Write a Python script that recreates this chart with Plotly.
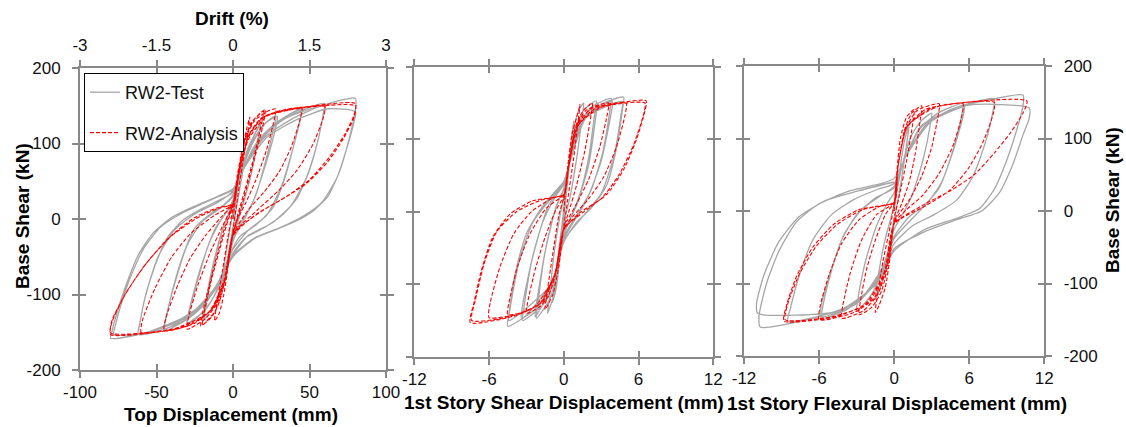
import plotly.graph_objects as go

# ---------------- data ----------------
# Panel 1: top displacement (mm) vs base shear (kN)
top_test = [
    (0, 0), (3, 40), (6, 68), (8, 80), (7, 70), (4, 35), (1, 0), (0, -10), (-3, -48), (-6, -75), (-8, -88),
    (-7, -76), (-4, -38), (-1, -2), (0, 8),
    (3, 45), (6, 72), (8, 82), (7, 70), (3, 25), (0, -12), (-3, -50), (-8, -90), (-7, -78), (-3, -25), (0, 10),
    (4, 55), (10, 95), (15, 115), (18, 125), (17, 112), (13, 70), (8, 30), (3, 0), (0, -22), (-5, -70),
    (-11, -108), (-16, -125), (-19, -133), (-18, -120), (-14, -75), (-9, -30), (-4, 2), (0, 18),
    (5, 60), (11, 98), (18, 128), (17, 114), (12, 60), (6, 15), (0, -25), (-6, -78), (-12, -112), (-20, -136),
    (-19, -122), (-13, -60), (-6, -8), (0, 20),
    (5, 60), (12, 100), (20, 125), (28, 137), (27, 124), (22, 82), (15, 32), (8, 2), (0, -28), (-6, -72),
    (-14, -108), (-22, -128), (-30, -140), (-29, -127), (-24, -88), (-16, -34), (-8, -2), (0, 22),
    (6, 65), (14, 105), (22, 128), (29, 136), (28, 122), (21, 70), (12, 18), (4, -8), (0, -30), (-8, -85),
    (-18, -120), (-30, -138), (-29, -124), (-22, -70), (-12, -14), (-4, 10), (0, 25),
    (6, 62), (15, 100), (28, 127), (38, 140), (45, 147), (44, 134), (40, 100), (34, 55), (26, 15), (15, -8),
    (5, -22), (0, -38), (-8, -78), (-18, -112), (-30, -133), (-45, -148), (-44, -134), (-40, -98), (-33, -50),
    (-25, -12), (-14, 8), (-5, 20), (0, 30),
    (7, 68), (18, 108), (30, 130), (45, 145), (44, 132), (39, 92), (32, 45), (22, 5), (10, -15), (0, -40),
    (-10, -85), (-22, -118), (-45, -146), (-44, -132), (-38, -85), (-30, -35), (-20, -3), (-8, 15), (0, 32),
    (6, 62), (16, 100), (30, 128), (45, 144), (60, 153), (59, 140), (56, 108), (50, 65), (42, 28), (32, 5),
    (20, -12), (8, -25), (0, -45), (-8, -82), (-20, -116), (-35, -138), (-50, -149), (-62, -153), (-61, -140),
    (-58, -108), (-51, -62), (-43, -25), (-33, -2), (-20, 14), (-8, 26), (0, 35),
    (7, 68), (18, 106), (34, 133), (60, 150), (59, 138), (55, 100), (48, 55), (38, 18), (25, -6), (10, -22),
    (0, -47), (-10, -88), (-24, -122), (-62, -152), (-61, -139), (-57, -100), (-49, -50), (-38, -14), (-24, 8),
    (-10, 22), (0, 37),
    (8, 72), (20, 107), (38, 132), (58, 150), (80, 160), (80, 144), (77, 115), (70, 65), (62, 30), (52, 10),
    (42, -2), (28, -14), (14, -26), (0, -50), (-10, -86), (-22, -116), (-40, -139), (-60, -152), (-80, -158),
    (-79, -148), (-76, -125), (-70, -88), (-62, -48), (-52, -18), (-40, 2), (-25, 17), (-10, 30), (0, 40),
    (8, 70), (22, 108), (42, 132), (62, 146), (80, 142), (79, 128), (75, 98), (68, 55), (58, 22), (46, 4),
    (30, -12), (15, -24), (0, -48), (-12, -92), (-30, -130), (-55, -150), (-78, -153), (-77, -142), (-73, -112),
    (-66, -72), (-58, -38), (-47, -10), (-33, 8), (-16, 24), (0, 38),
]
top_analysis = [
    (0, 0), (3, 50), (6, 90), (9, 120), (11, 135), (10, 118), (6, 70), (2, 15), (0, -15), (-3, -60), (-6, -100),
    (-9, -125), (-12, -135), (-11, -118), (-7, -70), (-3, -20), (0, 15),
    (3, 55), (7, 100), (12, 128), (20, 143), (19, 130), (14, 85), (8, 40), (3, 5), (0, -20), (-4, -70),
    (-9, -110), (-14, -130), (-20, -140), (-19, -125), (-14, -80), (-8, -35), (-3, 0), (0, 18),
    (3, 60), (8, 108), (14, 132), (21, 145), (20, 128), (13, 72), (6, 20), (0, -18), (-5, -80), (-11, -120),
    (-21, -142), (-20, -126), (-13, -68), (-6, -15), (0, 20),
    (3, 55), (8, 105), (14, 130), (22, 142), (28, 146), (27, 132), (22, 92), (15, 52), (8, 20), (3, 0), (0, -20),
    (-4, -70), (-10, -110), (-18, -132), (-30, -146), (-29, -130), (-23, -88), (-15, -45), (-7, -10), (0, 20),
    (4, 60), (10, 110), (18, 133), (30, 143), (45, 147), (44, 133), (38, 95), (30, 62), (20, 35), (10, 12),
    (0, -20), (-5, -75), (-12, -115), (-25, -138), (-45, -148), (-44, -132), (-37, -92), (-28, -52), (-18, -22),
    (-8, 2), (0, 20),
    (4, 62), (10, 110), (20, 135), (35, 145), (60, 149), (59, 134), (52, 98), (42, 65), (30, 38), (16, 12),
    (0, -20), (-5, -78), (-14, -120), (-30, -142), (-60, -150), (-59, -133), (-51, -92), (-40, -50), (-27, -18),
    (-12, 5), (0, 20),
    (4, 62), (10, 108), (20, 135), (40, 146), (80, 153), (79, 137), (73, 112), (63, 82), (50, 52), (35, 30),
    (20, 12), (8, -5), (0, -20), (-5, -78), (-14, -120), (-35, -144), (-80, -153), (-79, -136), (-71, -102),
    (-58, -62), (-42, -25), (-25, 2), (-10, 15), (0, 20),
    (4, 60), (10, 105), (22, 136), (45, 147), (80, 150), (79, 134), (72, 106), (62, 76), (48, 47), (32, 26),
    (15, 6), (0, -22), (-6, -82), (-16, -124), (-40, -146), (-80, -151), (-79, -134), (-70, -98), (-56, -57),
    (-40, -22), (-22, 3), (-8, 15), (0, 18),
]

# Panel 2: 1st story shear displacement (mm) vs base shear (kN)
shear_test = [
    (0, 0), (0.3, 50), (0.6, 100), (0.8, 125), (0.7, 110), (0.3, 40), (0, -10), (-0.3, -60), (-0.6, -105),
    (-0.9, -125), (-0.8, -110), (-0.3, -40), (0, 5),
    (0.3, 55), (0.7, 105), (1.2, 140), (1.6, 150), (1.5, 135), (1.0, 70), (0.5, 20), (0, -15), (-0.4, -70),
    (-0.8, -115), (-1.3, -140), (-1.2, -125), (-0.8, -60), (-0.3, -5), (0, 20),
    (0.4, 60), (0.9, 110), (1.6, 140), (2.6, 153), (2.5, 138), (2.0, 75), (1.3, 25), (0.5, -10), (0, -30),
    (-0.5, -80), (-1.1, -120), (-2.2, -147), (-2.1, -130), (-1.6, -65), (-0.9, -10), (-0.3, 20), (0, 30),
    (0.5, 70), (1.1, 118), (2.7, 150), (2.6, 135), (2.0, 65), (1.1, 12), (0, -32), (-0.6, -90), (-2.3, -145),
    (-2.2, -128), (-1.5, -55), (-0.6, 8), (0, 32),
    (0.5, 70), (1.2, 120), (2.3, 145), (3.8, 156), (3.7, 140), (3.1, 80), (2.2, 30), (1.2, 0), (0, -35),
    (-0.6, -85), (-1.5, -125), (-3.3, -150), (-3.2, -132), (-2.6, -70), (-1.7, -15), (-0.7, 20), (0, 38),
    (0.6, 75), (1.4, 125), (3.9, 152), (3.8, 136), (3.0, 70), (1.8, 15), (0, -38), (-0.8, -95), (-3.4, -148),
    (-3.3, -128), (-2.4, -55), (-1.2, 10), (0, 40),
    (0.6, 75), (1.5, 125), (3.0, 148), (4.8, 158), (4.7, 140), (4.2, 85), (3.4, 35), (2.2, 5), (1.0, -15),
    (0, -42), (-0.8, -90), (-2.0, -130), (-4.5, -158), (-4.4, -140), (-3.9, -85), (-3.0, -30), (-1.8, 5),
    (-0.7, 28), (0, 42),
    (0.7, 80), (1.8, 130), (4.7, 152), (4.6, 135), (4.0, 75), (3.0, 25), (1.6, -5), (0, -40), (-1.0, -100),
    (-4.4, -150), (-4.3, -132), (-3.6, -70), (-2.5, -15), (-1.2, 15), (0, 40),
]
shear_analysis = [
    (0, 0), (0.3, 60), (0.7, 110), (1.2, 140), (1.3, 148), (1.2, 132), (0.8, 75), (0.3, 15), (0, -20),
    (-0.4, -75), (-0.9, -115), (-1.5, -135), (-1.4, -118), (-0.9, -60), (-0.4, -5), (0, 20),
    (0.4, 65), (0.9, 115), (1.5, 138), (2.3, 150), (2.2, 135), (1.7, 85), (1.0, 35), (0.4, 0), (0, -22),
    (-0.5, -75), (-1.2, -115), (-2.0, -132), (-3.0, -140), (-2.9, -125), (-2.3, -80), (-1.5, -35), (-0.7, 0),
    (0, 22),
    (0.4, 65), (1.0, 118), (1.8, 140), (3.6, 150), (3.5, 135), (2.9, 90), (2.0, 45), (1.0, 10), (0, -22),
    (-0.6, -80), (-1.6, -122), (-2.8, -136), (-4.5, -142), (-4.4, -125), (-3.7, -75), (-2.7, -30), (-1.4, 5),
    (0, 24),
    (0.4, 65), (1.0, 118), (2.2, 142), (5.0, 150), (4.9, 132), (4.2, 88), (3.2, 48), (2.0, 18), (0.8, -5),
    (0, -24), (-0.7, -85), (-1.8, -125), (-3.5, -140), (-6.0, -146), (-5.9, -125), (-5.1, -75), (-4.0, -30),
    (-2.6, 0), (-1.0, 18), (0, 24),
    (0.4, 62), (1.1, 118), (2.5, 142), (6.6, 153), (6.5, 138), (5.8, 98), (4.8, 58), (3.5, 25), (2.0, 5),
    (0, -24), (-0.7, -85), (-2.0, -128), (-4.0, -144), (-7.5, -153), (-7.2, -125), (-6.6, -80), (-5.7, -35),
    (-4.3, -3), (-2.5, 15), (0, 24),
    (0.4, 62), (1.2, 120), (3.0, 144), (6.5, 150), (6.4, 134), (5.6, 92), (4.4, 50), (3.0, 18), (1.4, 0),
    (0, -25), (-0.8, -90), (-2.4, -132), (-5.0, -147), (-7.4, -150), (-7.1, -122), (-6.4, -72), (-5.4, -28),
    (-3.8, 0), (-1.8, 16), (0, 22),
]

# Panel 3: 1st story flexural displacement (mm) vs base shear (kN)
flex_test = [
    (0, 0), (0.4, 50), (0.8, 95), (1.2, 120), (1.1, 105), (0.6, 45), (0, -15), (-0.5, -65), (-1.0, -100),
    (-1.5, -122), (-1.4, -105), (-0.8, -45), (0, 8),
    (0.6, 60), (1.4, 105), (2.2, 125), (3.0, 135), (2.9, 120), (2.3, 70), (1.4, 20), (0.5, -10), (0, -25),
    (-0.8, -75), (-1.8, -115), (-3.0, -138), (-2.9, -122), (-2.3, -70), (-1.4, -20), (-0.5, 12), (0, 25),
    (0.8, 70), (2.0, 112), (3.5, 135), (5.5, 148), (5.4, 133), (4.8, 90), (3.8, 40), (2.6, 10), (1.2, -8),
    (0, -35), (-1.0, -80), (-2.5, -118), (-4.0, -138), (-5.8, -148), (-5.7, -132), (-5.1, -88), (-4.2, -40),
    (-3.0, -5), (-1.5, 18), (0, 32),
    (0.9, 75), (2.2, 118), (5.6, 145), (5.5, 130), (4.7, 82), (3.6, 32), (2.2, 3), (0, -38), (-1.2, -88),
    (-3.0, -128), (-5.9, -146), (-5.8, -128), (-5.0, -80), (-4.0, -32), (-2.6, 2), (-1.0, 22), (0, 34),
    (1.0, 78), (2.6, 120), (4.5, 140), (8.0, 155), (7.9, 138), (7.3, 95), (6.3, 48), (5.0, 15), (3.2, -5),
    (1.5, -20), (0, -45), (-1.2, -92), (-3.2, -130), (-8.5, -152), (-8.3, -135), (-7.6, -90), (-6.5, -40),
    (-5.0, -5), (-3.2, 16), (-1.3, 30), (0, 38),
    (1.0, 78), (2.8, 122), (5.0, 143), (7.5, 153), (10.3, 160), (10.3, 145), (9.8, 112), (9.0, 70), (8.0, 30),
    (6.8, 3), (5.0, -10), (2.5, -25), (0, -55), (-1.2, -95), (-3.5, -130), (-6.5, -148), (-10.7, -160),
    (-10.8, -145), (-10.2, -100), (-9.2, -55), (-7.8, -15), (-6.0, 10), (-3.5, 28), (-1.0, 38), (0, 45),
    (1.1, 80), (3.0, 124), (6.0, 146), (10.8, 142), (10.8, 128), (10.3, 105), (9.5, 65), (8.4, 25), (7.0, 0),
    (5.0, -12), (2.5, -28), (0, -52), (-1.4, -100), (-4.5, -138), (-10.9, -141), (-11.0, -128), (-10.4, -88),
    (-9.2, -42), (-7.6, -8), (-5.5, 14), (-2.8, 28), (0, 40),
]
flex_analysis = [
    (0, 0), (0.2, 50), (0.5, 100), (1.0, 130), (1.6, 140), (1.5, 122), (1.0, 70), (0.4, 20), (0, -10),
    (-0.3, -60), (-0.7, -105), (-1.2, -130), (-1.5, -140), (-1.4, -122), (-0.9, -70), (-0.3, -20), (0, 10),
    (0.3, 60), (0.8, 110), (1.4, 135), (2.2, 145), (2.1, 128), (1.7, 80), (1.2, 40), (0.6, 10), (0, -15),
    (-0.4, -65), (-1.0, -110), (-1.8, -133), (-2.8, -143), (-2.7, -125), (-2.2, -80), (-1.5, -40), (-0.7, -5),
    (0, 12),
    (0.3, 60), (0.9, 112), (1.8, 138), (3.6, 148), (3.5, 130), (3.0, 88), (2.2, 48), (1.2, 15), (0, -15),
    (-0.5, -70), (-1.3, -115), (-2.5, -138), (-4.2, -148), (-4.1, -130), (-3.5, -85), (-2.6, -40), (-1.4, -5),
    (0, 12),
    (0.3, 60), (1.0, 115), (2.5, 140), (5.5, 148), (5.4, 130), (4.7, 90), (3.6, 52), (2.3, 22), (1.0, 2),
    (0, -17), (-0.6, -75), (-1.6, -120), (-3.2, -140), (-6.0, -150), (-5.9, -130), (-5.2, -88), (-4.2, -45),
    (-2.8, -12), (-1.2, 6), (0, 12),
    (0.3, 60), (1.0, 115), (3.0, 142), (8.0, 150), (7.9, 133), (7.1, 95), (5.9, 58), (4.4, 28), (2.6, 8),
    (0, -18), (-0.7, -80), (-2.0, -125), (-4.5, -145), (-8.8, -152), (-8.6, -130), (-7.8, -90), (-6.5, -50),
    (-4.8, -18), (-2.8, 2), (0, 12),
    (0.3, 60), (1.1, 118), (3.5, 144), (10.6, 152), (10.3, 135), (9.3, 108), (8.0, 80), (6.4, 50), (4.5, 28),
    (2.5, 10), (0, -18), (-0.8, -85), (-2.4, -130), (-5.0, -146), (-8.7, -150), (-8.5, -128), (-7.6, -88),
    (-6.2, -48), (-4.5, -18), (-2.5, 2), (0, 10),
]

# tick values / labels (plain hyphen minus, as in the reference)
disp_ticks = [-100, -50, 0, 50, 100]
disp_labels = ["-100", "-50", "0", "50", "100"]
drift_ticks = [-3, -1.5, 0, 1.5, 3]
drift_labels = ["-3", "-1.5", "0", "1.5", "3"]
story_ticks = [-12, -6, 0, 6, 12]
story_labels = ["-12", "-6", "0", "6", "12"]
shear_ticks = [-200, -100, 0, 100, 200]
shear_labels = ["-200", "-100", "0", "100", "200"]

series_names = ["RW2-Test", "RW2-Analysis"]

# ---------------- styling ----------------
W, H = 1126, 427
FONT = "Arial, Liberation Sans, sans-serif"
GREY = "#a6a6a6"
RED = "#ff0000"
AXC = "#888888"


def px_x(p):
    return p / W


def px_y(p):
    return 1 - p / H


panels = [
    dict(test=top_test, ana=top_analysis, xd=[px_x(80), px_x(386)], yd=[px_y(370), px_y(68)],
         xr=[-100, 100], xt=disp_ticks, xl=disp_labels, yside="left", ylabels=True),
    dict(test=shear_test, ana=shear_analysis, xd=[px_x(414.3), px_x(713.3)], yd=[px_y(356.7), px_y(66.7)],
         xr=[-12, 12], xt=story_ticks, xl=story_labels, yside="left", ylabels=False),
    dict(test=flex_test, ana=flex_analysis, xd=[px_x(744), px_x(1044.3)], yd=[px_y(356), px_y(66)],
         xr=[-12, 12], xt=story_ticks, xl=story_labels, yside="right", ylabels=True),
]

fig = go.Figure()
tickfont = dict(family=FONT, size=17, color="#111111")
tick_common = dict(ticks="outside", ticklen=6, tickcolor=AXC, tickwidth=1.5,
                   showgrid=False, zeroline=False, tickfont=tickfont, automargin=False)
inner_common = dict(showticklabels=False, ticks="inside", ticklen=6, tickcolor=AXC, tickwidth=1.5,
                    mirror="ticks", showline=False, showgrid=False, zeroline=False, automargin=False)

for i, p in enumerate(panels):
    n = "" if i == 0 else str(i + 1)
    xa, ya = "x" + n, "y" + n
    tx, ty = zip(*p["test"])
    ax_, ay_ = zip(*p["ana"])
    fig.add_trace(go.Scatter(x=list(tx), y=list(ty), mode="lines", xaxis=xa, yaxis=ya,
                             line=dict(color=GREY, width=1.3, shape="spline", smoothing=0.6),
                             name=series_names[0], legendgroup="a", showlegend=(i == 0)))
    fig.add_trace(go.Scatter(x=list(ax_), y=list(ay_), mode="lines", xaxis=xa, yaxis=ya,
                             line=dict(color=RED, width=1.1, dash="4px,2px", shape="spline", smoothing=0.6),
                             name=series_names[1], legendgroup="b", showlegend=(i == 0)))
    fig.update_layout(**{
        "xaxis" + n: dict(domain=p["xd"], range=p["xr"], tickvals=p["xt"], ticktext=p["xl"], anchor=ya,
                          showline=True, linecolor=AXC, linewidth=2, mirror="ticks",
                          ticklabelstandoff=0, **tick_common),
        "yaxis" + n: dict(domain=p["yd"], range=[-200, 200], tickvals=shear_ticks, ticktext=shear_labels,
                          anchor=xa, side=p["yside"], showticklabels=p["ylabels"],
                          showline=True, linecolor=AXC, linewidth=2, mirror="ticks",
                          ticklabelstandoff=8, **tick_common),
    })
    # overlay axes: the inner half of the crossing ticks
    k = str(i + 7)
    fig.add_trace(go.Scatter(x=[None], y=[None], xaxis="x" + k, yaxis="y" + k,
                             showlegend=False, hoverinfo="skip"))
    fig.update_layout(**{
        "xaxis" + k: dict(overlaying=xa, anchor="y" + k, range=p["xr"], tickvals=p["xt"], **inner_common),
        "yaxis" + k: dict(overlaying=ya, anchor="x" + k, range=[-200, 200], tickvals=shear_ticks,
                          **inner_common),
    })

# top drift axis for panel 1
fig.add_trace(go.Scatter(x=[None], y=[None], xaxis="x4", yaxis="y", showlegend=False, hoverinfo="skip"))
fig.update_layout(xaxis4=dict(overlaying="x", side="top", anchor="y", range=[-3, 3],
                              tickvals=drift_ticks, ticktext=drift_labels, showline=False,
                              ticklabelstandoff=3, **tick_common))

titlefont = dict(family=FONT, size=19, color="#000000", weight="bold")
annos = [
    dict(text="Drift (%)", x=px_x(232), y=px_y(18)),
    dict(text="Top Displacement (mm)", x=px_x(231), y=px_y(414)),
    dict(text="1st Story Shear Displacement (mm)", x=px_x(564), y=px_y(402)),
    dict(text="1st Story Flexural Displacement (mm)", x=px_x(897), y=px_y(403)),
    dict(text="Base Shear (kN)", x=px_x(22), y=px_y(216), textangle=-90),
    dict(text="Base Shear (kN)", x=px_x(1112), y=px_y(200), textangle=-90),
]
for a in annos:
    fig.add_annotation(xref="paper", yref="paper", showarrow=False, font=titlefont,
                       xanchor="center", yanchor="middle", **a)

fig.update_layout(
    width=W, height=H, margin=dict(l=0, r=0, t=0, b=0, autoexpand=False),
    paper_bgcolor="white", plot_bgcolor="white",
    showlegend=True,
    legend=dict(x=px_x(84), y=px_y(73), xanchor="left", yanchor="top",
                bordercolor="#000000", borderwidth=1, bgcolor="white",
                font=dict(family=FONT, size=18, color="#111111"),
                tracegroupgap=14, traceorder="grouped", itemwidth=30),
)

fig.write_html("out.html")
